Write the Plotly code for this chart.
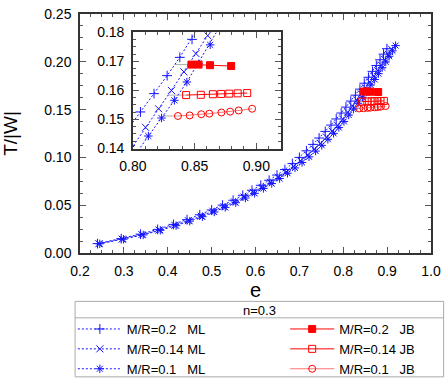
import plotly.graph_objects as go

# Maclaurin-like sequences (ML), T/|W| against e
e_ml_02 = [0.240, 0.294, 0.338, 0.377, 0.413, 0.444, 0.473, 0.500, 0.525, 0.549, 0.571, 0.592,
           0.612, 0.631, 0.649, 0.667, 0.684, 0.700, 0.716, 0.731, 0.745, 0.759, 0.772, 0.784,
           0.7953, 0.8061, 0.8171, 0.8277, 0.8380, 0.8479, 0.8574, 0.8666, 0.8754, 0.8838,
           0.8918, 0.8995]
t_ml_02 = [0.0098, 0.0150, 0.0197, 0.0247, 0.0299, 0.0349, 0.0400, 0.0450, 0.0501, 0.0552,
           0.0604, 0.0656, 0.0708, 0.0761, 0.0815, 0.0873, 0.0935, 0.1000, 0.1069, 0.1136,
           0.1203, 0.1272, 0.1338, 0.1402, 0.1464, 0.1526, 0.1589, 0.1651, 0.1714, 0.1776,
           0.1838, 0.1900, 0.1961, 0.2021, 0.2080, 0.2137]

e_ml_014 = [0.243, 0.296, 0.341, 0.380, 0.416, 0.447, 0.476, 0.503, 0.528, 0.552, 0.574, 0.595,
            0.615, 0.634, 0.652, 0.670, 0.687, 0.703, 0.719, 0.734, 0.748, 0.762, 0.775, 0.787,
            0.7988, 0.8102, 0.8208, 0.8312, 0.8413, 0.8511, 0.8606, 0.8697, 0.8785, 0.8869,
            0.8950, 0.9028, 0.9103]
t_ml_014 = [0.0097, 0.0145, 0.0192, 0.0240, 0.0290, 0.0338, 0.0386, 0.0436, 0.0485, 0.0535,
            0.0585, 0.0635, 0.0687, 0.0740, 0.0793, 0.0849, 0.0906, 0.0964, 0.1024, 0.1086,
            0.1147, 0.1211, 0.1274, 0.1335, 0.1400, 0.1473, 0.1537, 0.1600, 0.1664, 0.1727,
            0.1789, 0.1849, 0.1908, 0.1966, 0.2022, 0.2077, 0.2131]

e_ml_01 = [0.245, 0.299, 0.344, 0.383, 0.419, 0.450, 0.479, 0.506, 0.531, 0.555, 0.577, 0.598,
           0.618, 0.637, 0.655, 0.673, 0.690, 0.706, 0.722, 0.737, 0.751, 0.765, 0.778, 0.790,
           0.8015, 0.8125, 0.8232, 0.8336, 0.8437, 0.8533, 0.8626, 0.8716, 0.8803, 0.8887,
           0.8968, 0.9046, 0.9121, 0.9193]
t_ml_01 = [0.0096, 0.0144, 0.0189, 0.0237, 0.0286, 0.0333, 0.0380, 0.0429, 0.0477, 0.0526,
           0.0575, 0.0624, 0.0675, 0.0727, 0.0779, 0.0834, 0.0890, 0.0947, 0.1006, 0.1066,
           0.1126, 0.1189, 0.1251, 0.1312, 0.1376, 0.1443, 0.1505, 0.1566, 0.1629, 0.1692,
           0.1757, 0.1815, 0.1876, 0.1938, 0.1999, 0.2058, 0.2115, 0.2170]

# Jacobi-like branches (JB)
e_jb_02 = [0.8474, 0.8532, 0.8625, 0.8796]
t_jb_02 = [0.1689, 0.1689, 0.1687, 0.1684]

e_jb_014 = [0.8431, 0.8550, 0.8648, 0.8715, 0.8781, 0.8849, 0.8926]
t_jb_014 = [0.1584, 0.1585, 0.1587, 0.1588, 0.1589, 0.1590, 0.1591]

e_jb_01 = [0.8365, 0.8460, 0.8554, 0.8619, 0.8717, 0.8788, 0.8857, 0.8966]
t_jb_01 = [0.1512, 0.1514, 0.1518, 0.1520, 0.1524, 0.1527, 0.1531, 0.1537]

# grey connectors from the ML curve to the first JB point
e_bif_02 = [0.834, 0.8474]
t_bif_02 = [0.1689, 0.1689]
e_bif_014 = [0.8286, 0.8431]
t_bif_014 = [0.1584, 0.1584]
e_bif_01 = [0.8243, 0.8365]
t_bif_01 = [0.1512, 0.1512]

BLUE = "#1414ff"
RED = "#ff0000"

ml = [
    ("M/R=0.2\u00a0\u00a0\u00a0ML", e_ml_02, t_ml_02, "cross-thin-open"),
    ("M/R=0.14\u00a0ML", e_ml_014, t_ml_014, "x-thin-open"),
    ("M/R=0.1\u00a0\u00a0\u00a0ML", e_ml_01, t_ml_01, "asterisk-open"),
]
jb = [
    ("M/R=0.2\u00a0\u00a0\u00a0JB", e_jb_02, t_jb_02, "square", RED),
    ("M/R=0.14\u00a0JB", e_jb_014, t_jb_014, "square-open", RED),
    ("M/R=0.1\u00a0\u00a0\u00a0JB", e_jb_01, t_jb_01, "circle-open", "rgba(255,0,0,0.55)"),
]
bif = [(e_bif_02, t_bif_02), (e_bif_014, t_bif_014), (e_bif_01, t_bif_01)]

fig = go.Figure()

for xa, ya, leg in [("x", "y", True), ("x2", "y2", False)]:
    for e, t in bif:
        fig.add_trace(go.Scatter(x=e, y=t, mode="lines", xaxis=xa, yaxis=ya, showlegend=False,
                                 line=dict(color="#aaaaaa", width=1), hoverinfo="skip"))
    for name, e, t, sym in ml:
        fig.add_trace(go.Scatter(
            x=e, y=t, name=name, mode="lines+markers", xaxis=xa, yaxis=ya,
            showlegend=leg, legend="legend",
            line=dict(color=BLUE, width=1, dash="2px,2px"),
            marker=dict(symbol=sym, size=7, color=BLUE, line=dict(color=BLUE, width=1))))
    for name, e, t, sym, lc in jb:
        fig.add_trace(go.Scatter(
            x=e, y=t, name=name, mode="lines+markers", xaxis=xa, yaxis=ya,
            showlegend=leg, legend="legend2",
            line=dict(color=lc, width=1),
            marker=dict(symbol=sym, size=7, color=RED, line=dict(color=RED, width=1))))

axis_style = dict(showline=True, linecolor="#333333", linewidth=1.5, mirror="allticks",
                  ticks="inside", ticklen=6, tickwidth=1, tickcolor="#555555",
                  showgrid=False, zeroline=False, ticklabelstandoff=4,
                  minor=dict(ticks="inside", ticklen=3, tickcolor="#555555", showgrid=False))

# horizontal legends with a wide entry wrap to one entry per row (a column)
leg_style = dict(orientation="h", xref="container", yref="container", yanchor="top",
                 xanchor="left", y=0.178, bgcolor="rgba(0,0,0,0)", borderwidth=0,
                 font=dict(size=13), traceorder="normal", entrywidth=150, itemwidth=44)

fig.update_layout(
    width=447, height=382,
    margin=dict(l=74, r=15, t=6, b=129),
    paper_bgcolor="white", plot_bgcolor="white",
    font=dict(family="Liberation Sans, Arial, sans-serif", size=14, color="black"),
    xaxis=dict(axis_style, range=[0.2, 1.0], dtick=0.1, tick0=0.2, tickformat=".1f",
               minor=dict(axis_style["minor"], dtick=0.025),
               title=dict(text="e", font=dict(size=20), standoff=4)),
    yaxis=dict(axis_style, range=[0, 0.25], dtick=0.05, tick0=0, tickformat=".2f",
               minor=dict(axis_style["minor"], dtick=0.0125),
               title=dict(text="T/|W|", font=dict(size=19), standoff=25)),
    xaxis2=dict(axis_style, domain=[0.1508, 0.5726], anchor="y2", range=[0.8, 0.92],
                tick0=0.8, dtick=0.05, tickformat=".2f",
                minor=dict(axis_style["minor"], dtick=0.01)),
    yaxis2=dict(axis_style, domain=[0.4372, 0.9231], anchor="x2", range=[0.14, 0.18],
                tick0=0.14, dtick=0.01, tickformat=".2f",
                minor=dict(axis_style["minor"], dtick=0.0025)),
    legend=dict(leg_style, x=0.163),
    legend2=dict(leg_style, x=0.638),
    annotations=[dict(text="n=0.3", xref="paper", yref="paper", x=0.5112, y=-0.2389,
                      xanchor="center", yanchor="middle", showarrow=False,
                      font=dict(size=13))],
    shapes=[
        dict(type="rect", xref="paper", yref="paper", x0=-0.014, x1=1.036,
             y0=-0.5182, y1=-0.2024, line=dict(color="#aaaaaa", width=1)),
        dict(type="line", xref="paper", yref="paper", x0=-0.014, x1=1.036,
             y0=-0.2713, y1=-0.2713, line=dict(color="#aaaaaa", width=1)),
    ],
)

# drop the default 8px page margin so the figure fills the window exactly
fig.write_html("out.html", config={"displayModeBar": False},
               post_script="document.body.style.margin='0px';")
